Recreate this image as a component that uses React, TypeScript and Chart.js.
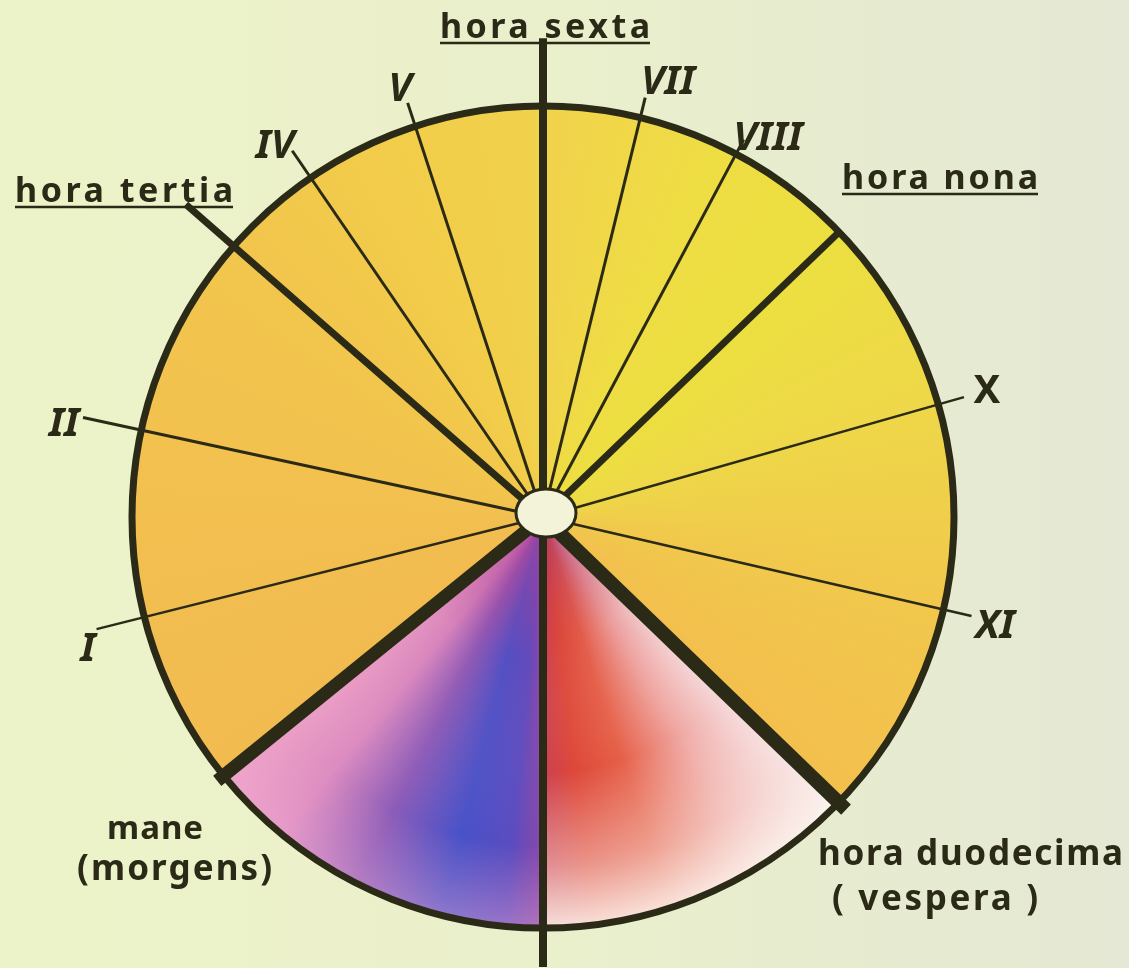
import React, { useEffect, useRef } from "react";
import { Chart, registerables } from "chart.js";

Chart.register(...registerables);

// Each slice starts at an hour line; angles read clockwise from "hora sexta" (top)
const hourMarks = ["hora sexta", "VII", "VIII", "hora nona", "X", "XI", "hora duodecima", "", "mane", "I", "II", "hora tertia", "IV", "V"];
const segmentDegrees = [13.7, 14.3, 18.1, 28.0, 28.9, 31.0, 46.0, 51.0, 24.9, 26.3, 29.0, 14.4, 16.3, 18.1];
const segmentKind = ["day", "day", "day", "day", "day", "day", "evening", "morning", "day", "day", "day", "day", "day", "day"];

// styling of the hour lines (per boundary)
const lineWidths = [8, 3, 3, 7, 2.5, 2.5, 14, 8, 13, 2.5, 3, 7, 3, 3];
const lineReach = [1.165, 1.05, 1.04, 1.0, 1.065, 1.07, 1.025, 1.095, 1.02, 1.12, 1.145, 1.155, 1.08, 1.06];

const INK = "#2a2a17";
const FONT = "'Noto Sans', 'DejaVu Sans', sans-serif";

type Lbl = { text: string; x: number; y: number; w?: number; size: number; italic?: boolean; underline?: boolean; align?: CanvasTextAlign };
const labels: Lbl[] = [
  { text: "hora sexta", x: 440, y: 38, w: 210, size: 34, underline: true },
  { text: "hora tertia", x: 15, y: 202, w: 218, size: 34, underline: true },
  { text: "hora nona", x: 842, y: 189, w: 196, size: 34, underline: true },
  { text: "V", x: 400, y: 101, size: 40, italic: true, align: "center" },
  { text: "IV", x: 275, y: 158, size: 40, italic: true, align: "center" },
  { text: "VII", x: 668, y: 94, size: 40, italic: true, align: "center" },
  { text: "VIII", x: 768, y: 150, size: 40, italic: true, align: "center" },
  { text: "II", x: 64, y: 436, size: 40, italic: true, align: "center" },
  { text: "I", x: 88, y: 661, size: 40, italic: true, align: "center" },
  { text: "X", x: 987, y: 403, size: 40, align: "center" },
  { text: "XI", x: 995, y: 638, size: 40, italic: true, align: "center" },
  { text: "mane", x: 107, y: 839, w: 96, size: 33 },
  { text: "(morgens)", x: 77, y: 880, w: 195, size: 35 },
  { text: "hora duodecima", x: 818, y: 865, w: 305, size: 35 },
  { text: "( vespera )", x: 832, y: 910, w: 206, size: 35 },
];

function dayGradient(ctx: CanvasRenderingContext2D, cx: number, cy: number) {
  const g = (ctx as any).createConicGradient(-Math.PI / 2, cx, cy);
  g.addColorStop(0, "#f1d24c");
  g.addColorStop(0.06, "#efdc44");
  g.addColorStop(0.13, "#ecdf40");
  g.addColorStop(0.2, "#eed848");
  g.addColorStop(0.28, "#f1c84c");
  g.addColorStop(0.372, "#f3bf4e");
  g.addColorStop(0.642, "#f2bb50");
  g.addColorStop(0.72, "#f2be50");
  g.addColorStop(0.8, "#f2c24e");
  g.addColorStop(0.87, "#f2c64c");
  g.addColorStop(0.93, "#f2cc4a");
  g.addColorStop(1, "#f1d24c");
  return g;
}
function eveningGradient(ctx: CanvasRenderingContext2D, cx: number, cy: number) {
  const g = (ctx as any).createConicGradient(-Math.PI / 2, cx, cy);
  g.addColorStop(0.37, "#f6e0e2");
  g.addColorStop(0.41, "#f0a8a4");
  g.addColorStop(0.45, "#e66048");
  g.addColorStop(0.48, "#de4838");
  g.addColorStop(0.5, "#cc4052");
  return g;
}
function morningGradient(ctx: CanvasRenderingContext2D, cx: number, cy: number) {
  const g = (ctx as any).createConicGradient(-Math.PI / 2, cx, cy);
  g.addColorStop(0.5, "#8a48a8");
  g.addColorStop(0.515, "#5a4cc0");
  g.addColorStop(0.54, "#4852c8");
  g.addColorStop(0.575, "#8c5cb8");
  g.addColorStop(0.61, "#dc8cc0");
  g.addColorStop(0.645, "#eea2c6");
  return g;
}

const drawingPlugin = {
  id: "sundial",
  afterDatasetsDraw(chart: any) {
    const ctx: CanvasRenderingContext2D = chart.ctx;
    const arcs = chart.getDatasetMeta(0).data as any[];
    if (!arcs.length) return;
    const cx = arcs[0].x, cy = arcs[0].y, R = arcs[0].outerRadius;

    // radial shading of the night slices
    arcs.forEach((a, i) => {
      const kind = segmentKind[i];
      if (kind === "day") return;
      ctx.save();
      ctx.beginPath();
      ctx.moveTo(cx, cy);
      ctx.arc(cx, cy, R, a.startAngle, a.endAngle);
      ctx.closePath();
      ctx.clip();
      const rg = ctx.createRadialGradient(cx, cy, 0, cx, cy, R);
      if (kind === "evening") {
        rg.addColorStop(0, "rgba(160,50,120,0.75)");
        rg.addColorStop(0.3, "rgba(200,60,80,0.12)");
        rg.addColorStop(0.62, "rgba(250,240,235,0.0)");
        rg.addColorStop(0.85, "rgba(250,240,235,0.45)");
        rg.addColorStop(1, "rgba(252,246,240,0.88)");
      } else {
        rg.addColorStop(0, "rgba(175,65,150,0.8)");
        rg.addColorStop(0.35, "rgba(170,60,150,0.12)");
        rg.addColorStop(0.8, "rgba(240,160,205,0.0)");
        rg.addColorStop(1, "rgba(246,178,212,0.4)");
      }
      ctx.fillStyle = rg;
      ctx.fillRect(cx - R, cy - R, 2 * R, 2 * R);
      ctx.restore();
    });

    // rim
    ctx.save();
    ctx.strokeStyle = INK;
    ctx.lineWidth = 7;
    ctx.beginPath();
    ctx.arc(cx, cy, R, 0, Math.PI * 2);
    ctx.stroke();

    // hour lines
    ctx.lineCap = "butt";
    arcs.forEach((a, i) => {
      const ang = a.startAngle;
      const r2 = R * lineReach[i];
      ctx.lineWidth = lineWidths[i];
      ctx.beginPath();
      ctx.moveTo(cx, cy);
      ctx.lineTo(cx + Math.cos(ang) * r2, cy + Math.sin(ang) * r2);
      ctx.stroke();
    });

    // hub
    ctx.beginPath();
    ctx.ellipse(cx + 3, cy - 4, 30, 24, 0, 0, Math.PI * 2);
    ctx.fillStyle = "#f3f3da";
    ctx.fill();
    ctx.lineWidth = 3;
    ctx.stroke();

    // labels
    ctx.fillStyle = INK;
    ctx.textBaseline = "alphabetic";
    labels.forEach((l) => {
      ctx.font = `${l.italic ? "italic " : ""}bold ${l.size}px ${FONT}`;
      (ctx as any).letterSpacing = "0px";
      if (l.w) {
        const w0 = ctx.measureText(l.text).width;
        const n = l.text.length;
        const sp = n > 1 ? (l.w - w0) / (n - 1) : 0;
        (ctx as any).letterSpacing = `${sp}px`;
        ctx.textAlign = "left";
        ctx.fillText(l.text, l.x, l.y);
        if (l.underline) {
          ctx.lineWidth = 2.5;
          ctx.beginPath();
          ctx.moveTo(l.x, l.y + 5);
          ctx.lineTo(l.x + l.w, l.y + 5);
          ctx.stroke();
        }
      } else {
        ctx.textAlign = l.align || "left";
        ctx.fillText(l.text, l.x, l.y);
      }
    });
    (ctx as any).letterSpacing = "0px";
    ctx.restore();
  },
};

export default function App() {
  const ref = useRef<HTMLCanvasElement>(null);
  useEffect(() => {
    document.body.style.margin = "0";
    const canvas = ref.current!;
    const chart = new Chart(canvas, {
      type: "pie",
      data: {
        labels: hourMarks,
        datasets: [
          {
            data: segmentDegrees,
            borderWidth: 0,
            backgroundColor: (c: any) => {
              const ch = c.chart;
              const area = ch.chartArea;
              const kind = segmentKind[c.dataIndex];
              if (!area) return "#f2c84c";
              const cx = (area.left + area.right) / 2;
              const cy = (area.top + area.bottom) / 2;
              if (kind === "evening") return eveningGradient(ch.ctx, cx, cy);
              if (kind === "morning") return morningGradient(ch.ctx, cx, cy);
              return dayGradient(ch.ctx, cx, cy);
            },
          },
        ],
      },
      options: {
        responsive: false,
        animation: false,
        rotation: 0,
        layout: { padding: { left: 131, right: 174, top: 106, bottom: 40 } },
        plugins: { legend: { display: false }, tooltip: { enabled: false } },
      },
      plugins: [drawingPlugin],
    });
    return () => chart.destroy();
  }, []);
  return (
    <div
      style={{
        position: "fixed",
        left: 0,
        top: 0,
        width: 1129,
        height: 968,
        background: "linear-gradient(90deg, #edf3c8 0%, #eaefcc 50%, #e4e8d4 100%)",
      }}
    >
      <canvas ref={ref} width={1129} height={968} />
    </div>
  );
}
